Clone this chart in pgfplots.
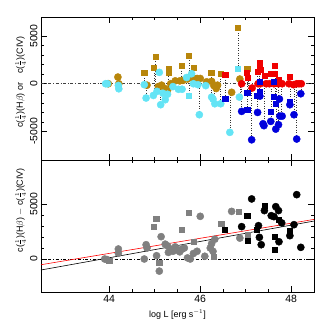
\documentclass[border=0pt]{standalone}
\usepackage{fontspec}
\setmainfont{Liberation Sans}
\usepackage{pgfplots}
\pgfplotsset{compat=1.18}
\definecolor{gold}{RGB}{184,134,11}
\definecolor{cyn}{RGB}{100,228,245}
\definecolor{rd}{RGB}{240,0,0}
\definecolor{bl}{RGB}{0,0,220}
\definecolor{gr}{RGB}{128,128,128}
\pgfplotsset{
  myax/.style={
    scale only axis, width=273bp,
    xmin=42.5, xmax=48.5,
    xtick={44,46,48}, minor x tick num=3,
    tick align=inside, major tick length=6bp, minor tick length=3bp,
    axis line style={line width=0.7pt}, every tick/.style={black, line width=0.5pt},
    tick label style={font=\fontsize{10.5}{12}\selectfont},
    yticklabel style={rotate=90, anchor=south},
    /pgf/number format/assume math mode=true,
    /pgf/number format/1000 sep={},
    label style={font=\fontsize{9}{11}\selectfont},
    unbounded coords=jump,
    clip=false,
  },
  sq/.style={only marks, mark=square*, mark size=2.6bp},
  ci/.style={only marks, mark=*, mark size=3.6bp},
}
\begin{document}
\begin{tikzpicture}
\path[use as bounding box] (-41bp,-172bp) rectangle (291bp,160bp);
% ---------------- top panel ----------------
\begin{axis}[myax, at={(0,0)}, anchor=south west, height=143bp,
  ymin=-8000, ymax=7000, ytick={-5000,0,5000}, minor y tick num=4,
  xticklabels={},
  ylabel={c($\frac{1}{4}$)(H$\beta$) or\quad c($\frac{1}{4}$)(CIV)},
  ylabel style={at={(axis description cs:-0.075,0.545)}, anchor=center},
]
\addplot[black!75, dash dot, line width=0.5pt] coordinates {(42.5,0) (48.5,0)};
% gold circles
\addplot[ci, mark options={draw=gold, fill=gold}] coordinates {
(43.98,0) (44.19,700) (44.21,0) (44.83,-150) (45.08,-300) (45.15,-150) (45.22,-500)
(45.28,-700) (45.35,0) (45.45,300) (45.55,300) (45.62,350) (45.72,500) (45.78,700)
(45.86,550) (45.93,550) (46.00,550) (46.14,200) (46.25,250) (46.30,-200) (46.35,-500)
(46.38,-150) (46.69,-900) (46.87,490)};
% gold squares
\addplot[sq, mark options={draw=gold, fill=gold}] coordinates {
(44.77,1150) (44.98,1650) (45.02,2870) (45.30,1570) (45.31,1120) (45.59,1890)
(45.75,2980) (45.86,1650) (46.24,1190) (46.45,1050) (46.83,5850) (47.03,1540)};
% cyan circles
\addplot[ci, mark options={draw=cyn, fill=cyn}] coordinates {
(43.92,0) (43.96,0) (44.20,-180) (44.21,-530) (44.77,-100) (44.81,-1500) (44.97,-1230)
(45.05,-800) (45.10,1190) (45.13,-2200) (45.18,-1000) (45.23,-1680) (45.28,-1100)
(45.40,-300) (45.52,-580) (45.60,-580) (45.70,650) (45.81,1050) (45.85,0) (45.95,-100)
(45.98,-3250) (46.12,-200) (46.25,-1400) (46.28,-1600) (46.32,-2100) (46.45,-2100)
(46.65,-5100) (46.86,-1400)};
% cyan squares
\addplot[sq, mark options={draw=cyn, fill=cyn}] coordinates {
(45.75,-1260) (46.83,1540)};
% red squares
\addplot[sq, mark options={draw=rd, fill=rd}] coordinates {
(46.55,945) (47.02,1120) (47.04,600) (47.27,1290) (47.30,2170) (47.31,1890) (47.32,1470)
(47.41,840) (47.55,1050) (47.64,1890) (47.64,1050) (47.72,420) (47.97,770)};
% red circles
\addplot[ci, mark options={draw=rd, fill=rd}] coordinates {
(46.91,0) (47.14,-450) (47.27,0) (47.32,0) (47.45,0) (47.52,0) (47.62,0) (47.72,0)
(47.80,0) (47.95,0) (48.05,-100) (48.12,0) (48.17,0) (48.22,0)};
% blue squares
\addplot[sq, mark options={draw=bl, fill=bl}] coordinates {
(46.55,-1610) (47.03,-980) (47.03,-2730) (47.25,-1260) (47.30,240) (47.31,-800)
(47.55,-2920) (47.62,240) (47.62,-1330) (47.65,-2100) (47.97,-1900)};
% blue circles
\addplot[ci, mark options={draw=bl, fill=bl}] coordinates {
(46.91,-2900) (47.13,-5880) (47.26,-3010) (47.31,-1300) (47.38,-4200) (47.40,-4400)
(47.55,-3950) (47.66,-4760) (47.72,-4300) (47.74,-1600) (47.75,-3400) (47.80,-3400)
(47.97,-2200) (48.06,-3250) (48.12,-5800) (48.21,-1050)};
% dotted connectors
\addplot[black!80, dotted, line width=0.5pt] coordinates {
(44.20,700) (44.20,-530) (44.20,nan)
(44.77,1150) (44.77,-100) (44.77,nan)
(44.82,-150) (44.82,-1500) (44.82,nan)
(44.98,1650) (44.98,-1230) (44.98,nan)
(45.02,2870) (45.02,-800) (45.02,nan)
(45.12,-300) (45.12,-2200) (45.12,nan)
(45.22,-400) (45.22,-1680) (45.22,nan)
(45.30,1570) (45.30,-1100) (45.30,nan)
(45.59,1890) (45.59,-580) (45.59,nan)
(45.75,2980) (45.75,-1260) (45.75,nan)
(45.86,1650) (45.86,0) (45.86,nan)
(45.98,550) (45.98,-3250) (45.98,nan)
(46.24,1190) (46.24,-1400) (46.24,nan)
(46.30,-200) (46.30,-2100) (46.30,nan)
(46.45,1050) (46.45,-2100) (46.45,nan)
(46.55,945) (46.55,-1610) (46.55,nan)
(46.67,-900) (46.67,-5100) (46.67,nan)
(46.83,5850) (46.83,1540) (46.83,nan)
(46.87,490) (46.87,-1400) (46.87,nan)
(46.91,0) (46.91,-2900) (46.91,nan)
(47.03,1540) (47.03,-2730) (47.03,nan)
(47.05,600) (47.05,-980) (47.05,nan)
(47.13,-450) (47.13,-5880) (47.13,nan)
(47.25,1290) (47.25,-3010) (47.25,nan)
(47.30,2170) (47.30,-1260) (47.30,nan)
(47.40,840) (47.40,-4400) (47.40,nan)
(47.55,1050) (47.55,-3950) (47.55,nan)
(47.64,1890) (47.64,-1330) (47.64,nan)
(47.66,0) (47.66,-4760) (47.66,nan)
(47.72,420) (47.72,-4300) (47.72,nan)
(47.77,0) (47.77,-3400) (47.77,nan)
(47.97,770) (47.97,-2200) (47.97,nan)
(48.06,0) (48.06,-3250) (48.06,nan)
(48.12,-100) (48.12,-5800) (48.12,nan)
(48.21,0) (48.21,-1050)};
\end{axis}
% ---------------- bottom panel ----------------
\begin{axis}[myax, at={(0,0)}, anchor=north west, height=132bp,
  ymin=-3000, ymax=9000, ytick={0,5000}, minor y tick num=4,
  xlabel={log L [erg s$^{-1}$]},
  ylabel={c($\frac{1}{4}$)(H$\beta$) $-$ c($\frac{1}{4}$)(CIV)},
  ylabel style={at={(axis description cs:-0.075,0.62)}, anchor=center},
]
\addplot[black, dash dot, line width=0.5pt] coordinates {(42.5,0) (48.5,0)};
% gray squares
\addplot[sq, mark options={draw=gr, fill=gr}] coordinates {
(44.00,-150) (44.97,2940) (45.03,3700) (45.10,-300) (45.60,2640) (45.75,4240)
(45.85,1600) (46.29,200) (46.46,3240) (46.84,4330) (47.04,2210)};
% gray circles
\addplot[ci, mark options={draw=gr, fill=gr}] coordinates {
(43.90,0) (43.95,-50) (44.20,910) (44.20,530) (44.77,0) (44.81,1300) (44.83,1000)
(45.04,300) (45.10,-1100) (45.14,2030) (45.23,1350) (45.28,1200) (45.30,600) (45.35,900)
(45.40,700) (45.45,1100) (45.50,800) (45.55,650) (45.60,900) (45.65,1000) (45.72,100)
(45.78,0) (45.85,500) (45.93,700) (46.00,3880) (46.10,250) (46.22,1000) (46.25,1400)
(46.28,700) (46.32,1800) (46.69,4330) (46.87,1900)};
% black squares
\addplot[sq, mark options={draw=black, fill=black}] coordinates {
(46.54,2640) (47.03,3940) (47.04,1660) (47.24,2640) (47.41,4850) (47.63,2030)
(47.63,820) (47.72,3600) (47.97,2580) (47.97,2350)};
% black circles
\addplot[ci, mark options={draw=black, fill=black}] coordinates {
(46.91,2940) (47.13,5460) (47.28,3030) (47.30,1970) (47.34,1300) (47.41,4400)
(47.56,3940) (47.62,3850) (47.66,4760) (47.72,4400) (47.73,1570) (47.79,3280)
(47.97,2120) (48.06,3120) (48.12,5850) (48.21,1060)};
% fits
\addplot[black, line width=0.6pt] coordinates {(42.5,-1000) (48.5,3450)};
\addplot[red, line width=0.6pt] coordinates {(42.5,-520) (48.5,3600)};
\end{axis}
\end{tikzpicture}
\end{document}
